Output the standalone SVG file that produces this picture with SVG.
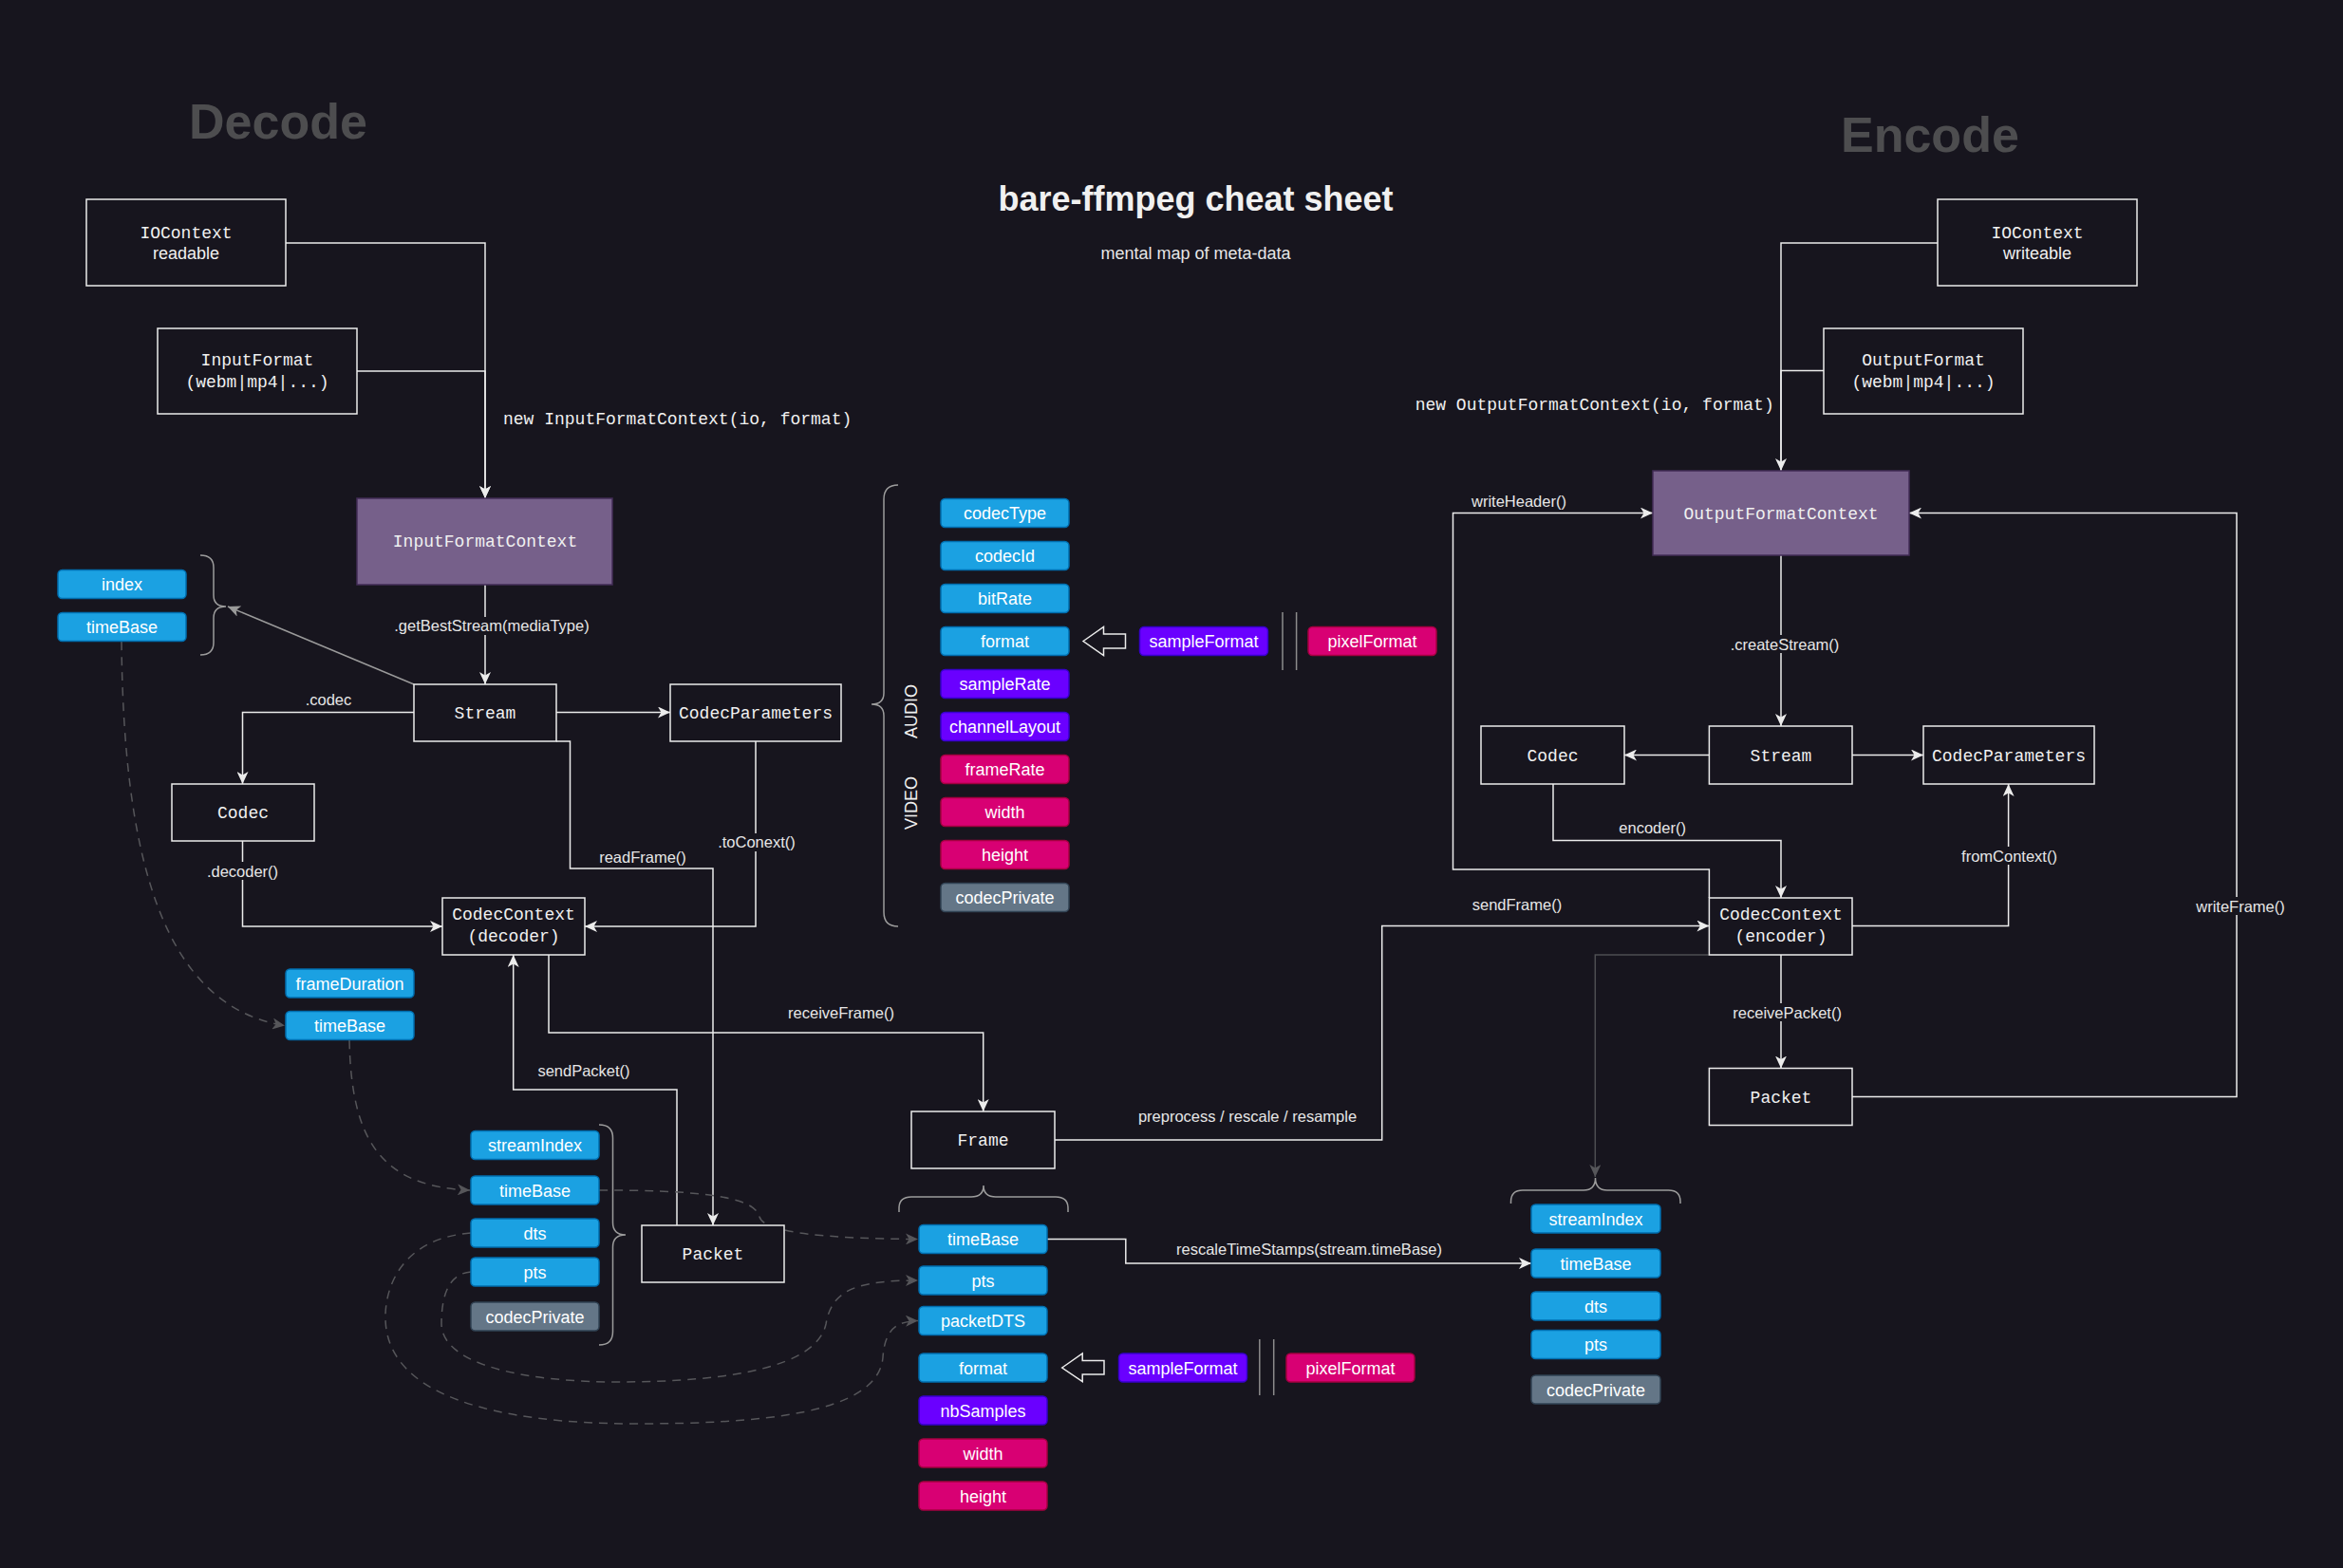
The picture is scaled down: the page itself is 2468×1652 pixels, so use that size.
<svg xmlns="http://www.w3.org/2000/svg" width="2468" height="1652" viewBox="0 0 2468 1652">
<defs>
<style>
.bg{fill:#17151e}
.box{fill:#17151e;stroke:#ececec;stroke-width:1.5}
.ctx{fill:#76608a;stroke:#432d57;stroke-width:1.5}
.mono{font-family:"Liberation Mono","DejaVu Sans Mono",monospace;font-size:18px;fill:#f0f0f0}
.sans{font-family:"Liberation Sans",Arial,sans-serif}
.lbl{font-family:"Liberation Sans",Arial,sans-serif;font-size:16.5px;fill:#e6e6e6}
.ptxt{font-family:"Liberation Sans",Arial,sans-serif;font-size:18px;fill:#ffffff;text-anchor:middle}
.blue{fill:#1ba1e2;stroke:#006eaf;stroke-width:1.5}
.purp{fill:#6a00ff;stroke:#3700cc;stroke-width:1.5}
.pink{fill:#d80073;stroke:#a50040;stroke-width:1.5}
.gray{fill:#647687;stroke:#314354;stroke-width:1.5}
.edge{fill:none;stroke:#ececec;stroke-width:1.5}
.edgeg{fill:none;stroke:#9a9a9a;stroke-width:1.5}
.edged{fill:none;stroke:#4e4e52;stroke-width:1.5}
.dash{fill:none;stroke:#56565a;stroke-width:1.5;stroke-dasharray:9 7}
.brace{fill:none;stroke:#9c9c9c;stroke-width:1.5}
.sep{fill:none;stroke:#8c8c8c;stroke-width:1.5}
.hollow{fill:none;stroke:#ececec;stroke-width:1.5}
.lbg{fill:#17151e}
.mid{text-anchor:middle}
</style>
<marker id="aw" markerUnits="userSpaceOnUse" markerWidth="14" markerHeight="12" refX="13" refY="6" orient="auto"><path d="M0,0 L13,6 L0,12 L3.5,6 Z" fill="#ececec"/></marker>
<marker id="ag" markerUnits="userSpaceOnUse" markerWidth="14" markerHeight="12" refX="13" refY="6" orient="auto"><path d="M0,0 L13,6 L0,12 L3.5,6 Z" fill="#9a9a9a"/></marker>
<marker id="ad" markerUnits="userSpaceOnUse" markerWidth="14" markerHeight="12" refX="13" refY="6" orient="auto"><path d="M0,0 L13,6 L0,12 L3.5,6 Z" fill="#56565a"/></marker>
</defs>
<rect class="bg" x="0" y="0" width="2468" height="1652"/>

<g id="titles">
<text class="sans" x="199" y="146" font-size="52" font-weight="bold" fill="#4d4d4f">Decode</text>
<text class="sans" x="1939" y="160" font-size="52" font-weight="bold" fill="#4d4d4f">Encode</text>
<text class="sans mid" x="1259.5" y="222" font-size="36" font-weight="bold" fill="#f0f0f0">bare-ffmpeg cheat sheet</text>
<text class="sans mid" x="1259.5" y="273" font-size="18" fill="#e6e6e6">mental map of meta-data</text>
</g>

<g id="connectors">
<!-- decode -->
<path class="edge" d="M301,256 H511 V525" marker-end="url(#aw)"/>
<path class="edge" d="M376,391 H511 V525" marker-end="url(#aw)"/>
<text class="mono" x="530" y="447">new InputFormatContext(io, format)</text>
<path class="edge" d="M511,616 V721" marker-end="url(#aw)"/>
<rect class="lbg" x="413" y="650" width="210" height="19"/>
<text class="lbl mid" x="518" y="665">.getBestStream(mediaType)</text>
<path class="edge" d="M586,750.5 H706" marker-end="url(#aw)"/>
<path class="edge" d="M436,750.5 H255.5 V826" marker-end="url(#aw)"/>
<text class="lbl mid" x="346" y="743">.codec</text>
<path class="edge" d="M586,781 H600.5 V915 H751 V1291" marker-end="url(#aw)"/>
<text class="lbl mid" x="677" y="909">readFrame()</text>
<path class="edge" d="M255.5,886 V976 H466" marker-end="url(#aw)"/>
<rect class="lbg" x="216" y="908" width="80" height="19"/>
<text class="lbl mid" x="255.5" y="923.5">.decoder()</text>
<path class="edge" d="M796,781 V976 H616" marker-end="url(#aw)"/>
<rect class="lbg" x="754" y="878" width="86" height="19"/>
<text class="lbl mid" x="797" y="893">.toConext()</text>
<path class="edge" d="M578,1006 V1088 H1035.7 V1171" marker-end="url(#aw)"/>
<text class="lbl mid" x="886" y="1073">receiveFrame()</text>
<path class="edge" d="M713,1291 V1148 H540.7 V1006" marker-end="url(#aw)"/>
<text class="lbl mid" x="615" y="1133.5">sendPacket()</text>
<path class="edgeg" d="M436,721 L240,639" marker-end="url(#ag)"/>
<!-- dashed timestamp flows -->
<path class="dash" d="M128,676 C130,900 170,1060 300,1080.5" marker-end="url(#ad)"/>
<path class="dash" d="M368,1096 C370,1200 400,1250 495,1254" marker-end="url(#ad)"/>
<path class="dash" d="M631,1254 C720,1254 795,1258 800,1282 C805,1300 880,1305 967,1305.5" marker-end="url(#ad)"/>
<path class="dash" d="M496,1299 C420,1305 405,1360 406,1390 C408,1470 520,1500 670,1500 C800,1500 925,1490 930,1430 C932,1400 945,1392 967,1391.5" marker-end="url(#ad)"/>
<path class="dash" d="M496,1340 C470,1342 465,1370 465,1395 C466,1440 560,1456 650,1456 C770,1456 860,1440 870,1395 C876,1360 900,1349 967,1349" marker-end="url(#ad)"/>
<!-- middle -->
<path class="edge" d="M1111,1201 H1455.7 V975.5 H1800.4" marker-end="url(#aw)"/>
<text class="lbl mid" x="1314" y="1181.5">preprocess / rescale / resample</text>
<text class="lbl mid" x="1598" y="959">sendFrame()</text>
<path class="edge" d="M1103,1305.5 H1185.8 V1331 H1613" marker-end="url(#aw)"/>
<text class="lbl mid" x="1379" y="1322">rescaleTimeStamps(stream.timeBase)</text>
<!-- encode -->
<path class="edge" d="M2041,256 H1876 V496" marker-end="url(#aw)"/>
<path class="edge" d="M1921,390.6 H1876 V509" marker-end="url(#aw)"/>
<text class="mono" x="1868.7" y="432" text-anchor="end">new OutputFormatContext(io, format)</text>
<path class="edge" d="M1876,585 V765" marker-end="url(#aw)"/>
<rect class="lbg" x="1820" y="669" width="120" height="19"/>
<text class="lbl mid" x="1880" y="684.5">.createStream()</text>
<path class="edge" d="M1800.4,795.5 H1711" marker-end="url(#aw)"/>
<path class="edge" d="M1951,795.5 H2026" marker-end="url(#aw)"/>
<path class="edge" d="M1636,826 V885.4 H1876 V946" marker-end="url(#aw)"/>
<text class="lbl mid" x="1740.6" y="878.4">encoder()</text>
<path class="edge" d="M1951,975.5 H2115.6 V826" marker-end="url(#aw)"/>
<rect class="lbg" x="2066" y="892" width="102" height="19"/>
<text class="lbl mid" x="2116.5" y="908">fromContext()</text>
<path class="edge" d="M1800.4,946 V916 H1530.5 V540.6 H1741" marker-end="url(#aw)"/>
<text class="lbl mid" x="1600" y="533.7">writeHeader()</text>
<path class="edge" d="M1876,1006 V1125.5" marker-end="url(#aw)"/>
<rect class="lbg" x="1822" y="1057" width="122" height="19"/>
<text class="lbl mid" x="1882.6" y="1073">receivePacket()</text>
<path class="edge" d="M1951,1155.6 H2356 V540.6 H2011" marker-end="url(#aw)"/>
<rect class="lbg" x="2312" y="945" width="96" height="19"/>
<text class="lbl mid" x="2360" y="960.5">writeFrame()</text>
<path class="edged" d="M1800.4,1006 H1680.3 V1240" marker-end="url(#ad)"/>
</g>

<g id="braces">
<path class="brace" d="M211,585 Q225,585 225,598 L225,627 Q225,639 238,639 Q225,639 225,651 L225,677 Q225,690 211,690"/>
<path class="brace" d="M946,511 Q931,511 931,526 L931,730 Q931,742 918,742 Q931,742 931,754 L931,961 Q931,976 946,976"/>
<path class="brace" d="M631,1185 Q645.5,1185 645.5,1199 L645.5,1288 Q645.5,1301 659,1301 Q645.5,1301 645.5,1314 L645.5,1403 Q645.5,1417 631,1417"/>
<path class="brace" d="M947,1277 L947,1273 Q947,1261 960,1261 L1023,1261 Q1036,1261 1036,1249 Q1036,1261 1049,1261 L1112,1261 Q1125,1261 1125,1273 L1125,1277"/>
<path class="brace" d="M1591.5,1268 L1591.5,1266 Q1591.5,1254 1604,1254 L1668,1254 Q1680.5,1254 1680.5,1241 Q1680.5,1254 1693,1254 L1757.5,1254 Q1770,1254 1770,1266 L1770,1268"/>
<text class="sans mid" font-size="18" fill="#f0f0f0" transform="translate(959.5,749.5) rotate(-90)" dy="6.5">AUDIO</text>
<text class="sans mid" font-size="18" fill="#f0f0f0" transform="translate(959.5,846) rotate(-90)" dy="6.5">VIDEO</text>
</g>

<g id="io-readable"><rect class="box" x="91" y="210" width="210" height="91"/><text class="mono mid" x="196" y="251">IOContext</text><text class="sans mid" font-size="18" fill="#f0f0f0" x="196" y="273">readable</text></g>
<g id="input-format"><rect class="box" x="166" y="346" width="210" height="90"/><text class="mono mid" x="271" y="385">InputFormat</text><text class="mono mid" x="271" y="408">(webm|mp4|...)</text></g>
<g id="input-format-context"><rect class="ctx" x="376" y="525" width="269" height="91"/><text class="mono mid" x="511" y="576">InputFormatContext</text></g>
<g id="stream-dec"><rect class="box" x="436" y="721" width="150" height="60"/><text class="mono mid" x="511" y="757">Stream</text></g>
<g id="codecparams-dec"><rect class="box" x="706" y="721" width="180" height="60"/><text class="mono mid" x="796" y="757">CodecParameters</text></g>
<g id="codec-dec"><rect class="box" x="181" y="826" width="150" height="60"/><text class="mono mid" x="256" y="862">Codec</text></g>
<g id="codeccontext-dec"><rect class="box" x="466" y="946" width="150" height="60"/><text class="mono mid" x="541" y="969">CodecContext</text><text class="mono mid" x="541" y="992">(decoder)</text></g>
<g id="packet-dec"><rect class="box" x="676" y="1291" width="150" height="60"/><text class="mono mid" x="751" y="1327">Packet</text></g>
<g id="frame"><rect class="box" x="960" y="1171" width="151" height="60"/><text class="mono mid" x="1035.5" y="1207">Frame</text></g>

<g id="io-writeable"><rect class="box" x="2041" y="210" width="210" height="91"/><text class="mono mid" x="2146" y="251">IOContext</text><text class="sans mid" font-size="18" fill="#f0f0f0" x="2146" y="273">writeable</text></g>
<g id="output-format"><rect class="box" x="1921" y="346" width="210" height="90"/><text class="mono mid" x="2026" y="385">OutputFormat</text><text class="mono mid" x="2026" y="408">(webm|mp4|...)</text></g>
<g id="output-format-context"><rect class="ctx" x="1741" y="496" width="270" height="89"/><text class="mono mid" x="1876" y="547">OutputFormatContext</text></g>
<g id="codec-enc"><rect class="box" x="1560" y="765" width="151" height="61"/><text class="mono mid" x="1635.5" y="802">Codec</text></g>
<g id="stream-enc"><rect class="box" x="1800.4" y="765" width="150.6" height="61"/><text class="mono mid" x="1876" y="802">Stream</text></g>
<g id="codecparams-enc"><rect class="box" x="2026" y="765" width="180" height="61"/><text class="mono mid" x="2116" y="802">CodecParameters</text></g>
<g id="codeccontext-enc"><rect class="box" x="1800.4" y="946" width="150.6" height="60"/><text class="mono mid" x="1876" y="969">CodecContext</text><text class="mono mid" x="1876" y="992">(encoder)</text></g>
<g id="packet-enc"><rect class="box" x="1800.4" y="1125.5" width="150.6" height="60"/><text class="mono mid" x="1876" y="1162">Packet</text></g>

<g id="stream-props">
<rect class="blue" x="61" y="600.5" width="135" height="30" rx="4.5"/><text class="ptxt" x="128.5" y="622">index</text>
<rect class="blue" x="61" y="645.5" width="135" height="30" rx="4.5"/><text class="ptxt" x="128.5" y="667">timeBase</text>
</g>
<g id="decoder-props">
<rect class="blue" x="301" y="1021" width="135" height="30" rx="4.5"/><text class="ptxt" x="368.5" y="1042.5">frameDuration</text>
<rect class="blue" x="301" y="1065.5" width="135" height="30" rx="4.5"/><text class="ptxt" x="368.5" y="1087">timeBase</text>
</g>
<g id="packet-props-dec">
<rect class="blue" x="496" y="1191.5" width="135" height="30" rx="4.5"/><text class="ptxt" x="563.5" y="1213">streamIndex</text>
<rect class="blue" x="496" y="1239" width="135" height="30" rx="4.5"/><text class="ptxt" x="563.5" y="1260.5">timeBase</text>
<rect class="blue" x="496" y="1284" width="135" height="30" rx="4.5"/><text class="ptxt" x="563.5" y="1305.5">dts</text>
<rect class="blue" x="496" y="1325" width="135" height="30" rx="4.5"/><text class="ptxt" x="563.5" y="1346.5">pts</text>
<rect class="gray" x="496" y="1372" width="135" height="30" rx="4.5"/><text class="ptxt" x="563.5" y="1393.5">codecPrivate</text>
</g>
<g id="codecparams-props">
<rect class="blue" x="991" y="525.5" width="135" height="30" rx="4.5"/><text class="ptxt" x="1058.5" y="547">codecType</text>
<rect class="blue" x="991" y="570.5" width="135" height="30" rx="4.5"/><text class="ptxt" x="1058.5" y="592">codecId</text>
<rect class="blue" x="991" y="615.5" width="135" height="30" rx="4.5"/><text class="ptxt" x="1058.5" y="637">bitRate</text>
<rect class="blue" x="991" y="660.5" width="135" height="30" rx="4.5"/><text class="ptxt" x="1058.5" y="682">format</text>
<rect class="purp" x="991" y="705.5" width="135" height="30" rx="4.5"/><text class="ptxt" x="1058.5" y="727">sampleRate</text>
<rect class="purp" x="991" y="750.5" width="135" height="30" rx="4.5"/><text class="ptxt" x="1058.5" y="772">channelLayout</text>
<rect class="pink" x="991" y="795.5" width="135" height="30" rx="4.5"/><text class="ptxt" x="1058.5" y="817">frameRate</text>
<rect class="pink" x="991" y="840.5" width="135" height="30" rx="4.5"/><text class="ptxt" x="1058.5" y="862">width</text>
<rect class="pink" x="991" y="885.5" width="135" height="30" rx="4.5"/><text class="ptxt" x="1058.5" y="907">height</text>
<rect class="gray" x="991" y="930.5" width="135" height="30" rx="4.5"/><text class="ptxt" x="1058.5" y="952">codecPrivate</text>
</g>
<g id="format-hint-1">
<path class="hollow" d="M1141,675.5 L1162.5,660.5 L1162.5,668 L1185.5,668 L1185.5,683 L1162.5,683 L1162.5,690.5 Z"/>
<rect class="purp" x="1200.5" y="660.5" width="135" height="30" rx="4.5"/><text class="ptxt" x="1268" y="682">sampleFormat</text>
<path class="sep" d="M1351,645 V706 M1365.6,645 V706"/>
<rect class="pink" x="1378" y="660.5" width="135" height="30" rx="4.5"/><text class="ptxt" x="1445.5" y="682">pixelFormat</text>
</g>
<g id="frame-props">
<rect class="blue" x="968" y="1290.5" width="135" height="30" rx="4.5"/><text class="ptxt" x="1035.5" y="1312">timeBase</text>
<rect class="blue" x="968" y="1334" width="135" height="30" rx="4.5"/><text class="ptxt" x="1035.5" y="1355.5">pts</text>
<rect class="blue" x="968" y="1376.5" width="135" height="30" rx="4.5"/><text class="ptxt" x="1035.5" y="1398">packetDTS</text>
<rect class="blue" x="968" y="1426" width="135" height="30" rx="4.5"/><text class="ptxt" x="1035.5" y="1447.5">format</text>
<rect class="purp" x="968" y="1471" width="135" height="30" rx="4.5"/><text class="ptxt" x="1035.5" y="1492.5">nbSamples</text>
<rect class="pink" x="968" y="1516" width="135" height="30" rx="4.5"/><text class="ptxt" x="1035.5" y="1537.5">width</text>
<rect class="pink" x="968" y="1561" width="135" height="30" rx="4.5"/><text class="ptxt" x="1035.5" y="1582.5">height</text>
</g>
<g id="format-hint-2">
<path class="hollow" d="M1118.7,1441 L1140.2,1426 L1140.2,1433.5 L1163,1433.5 L1163,1448 L1140.2,1448 L1140.2,1455.7 Z"/>
<rect class="purp" x="1178.5" y="1426" width="135" height="30" rx="4.5"/><text class="ptxt" x="1246" y="1447.5">sampleFormat</text>
<path class="sep" d="M1326.8,1411 V1470 M1341.7,1411 V1470"/>
<rect class="pink" x="1355" y="1426" width="135" height="30" rx="4.5"/><text class="ptxt" x="1422.5" y="1447.5">pixelFormat</text>
</g>
<g id="packet-props-enc">
<rect class="blue" x="1613" y="1269" width="136" height="30" rx="4.5"/><text class="ptxt" x="1681" y="1290.5">streamIndex</text>
<rect class="blue" x="1613" y="1316" width="136" height="30" rx="4.5"/><text class="ptxt" x="1681" y="1337.5">timeBase</text>
<rect class="blue" x="1613" y="1361" width="136" height="30" rx="4.5"/><text class="ptxt" x="1681" y="1382.5">dts</text>
<rect class="blue" x="1613" y="1401.5" width="136" height="30" rx="4.5"/><text class="ptxt" x="1681" y="1423">pts</text>
<rect class="gray" x="1613" y="1449" width="136" height="30" rx="4.5"/><text class="ptxt" x="1681" y="1470.5">codecPrivate</text>
</g>
</svg>
